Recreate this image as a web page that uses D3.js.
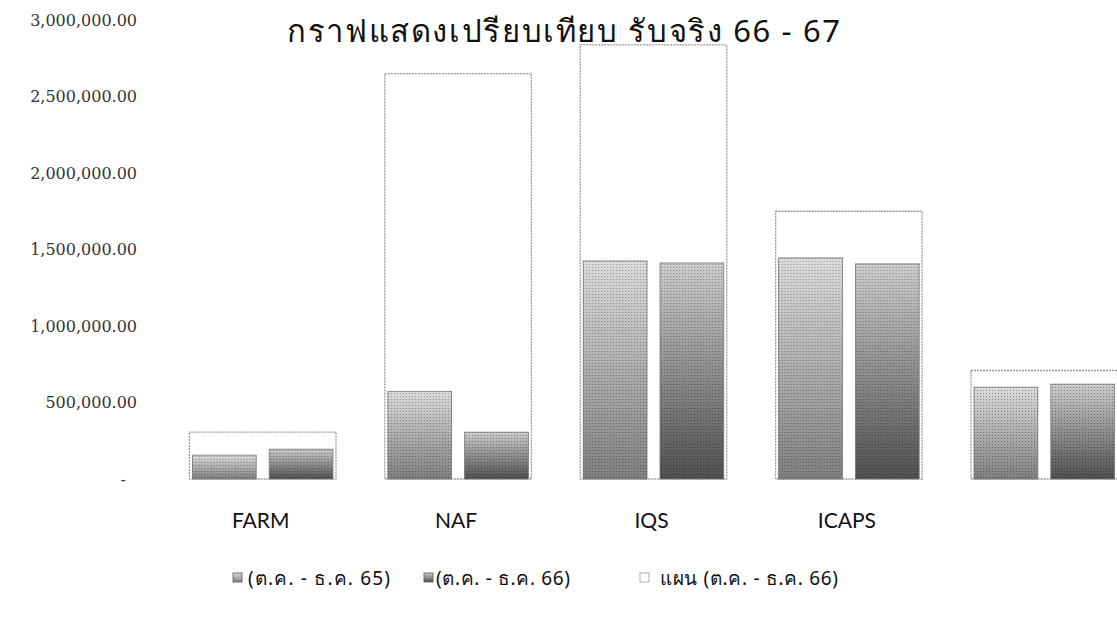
<!DOCTYPE html>
<html>
<head>
<meta charset="utf-8">
<script src="https://cdn.jsdelivr.net/npm/d3@7"></script>
<style>
  body { margin: 0; background: #fff; }
  text { fill: #111; }
</style>
</head>
<body>
<div id="chart"></div>
<script>
// data
var categories = ["FARM", "NAF", "IQS", "ICAPS", ""];
var actual65 = [156000, 573000, 1425000, 1445000, 600000];
var actual66 = [195000, 306000, 1412000, 1406000, 620000];
var plan66 = [306000, 2649000, 2837000, 1750000, 709000];
var yTicks = [0, 500000, 1000000, 1500000, 2000000, 2500000, 3000000];
var legendLabels = ["(ต.ค. - ธ.ค. 65)", "(ต.ค. - ธ.ค. 66)", "แผน (ต.ค. - ธ.ค. 66)"];
var title = "กราฟแสดงเปรียบเทียบ รับจริง 66 - 67";

var W = 1117, H = 617;
var svg = d3.select("#chart").append("svg")
    .attr("width", W).attr("height", H);

var defs = svg.append("defs");
function grad(id, top, bottom) {
  var g = defs.append("linearGradient").attr("id", id)
    .attr("x1", 0).attr("y1", 0).attr("x2", 0).attr("y2", 1);
  g.append("stop").attr("offset", "0%").attr("stop-color", top);
  g.append("stop").attr("offset", "100%").attr("stop-color", bottom);
}
grad("g65", "#dcdcdc", "#808080");
grad("g66", "#cdcdcd", "#505050");

// halftone dots
var pat = defs.append("pattern").attr("id", "dots")
  .attr("width", 3).attr("height", 3).attr("patternUnits", "userSpaceOnUse");
pat.append("rect").attr("width", 1).attr("height", 1).attr("fill", "#000").attr("opacity", 0.35);

var x = d3.scaleBand()
  .domain(d3.range(categories.length))
  .range([165, 1142])
  .paddingInner(0.25).paddingOuter(0.125);

var y = d3.scaleLinear().domain([0, 3000000]).range([479, 20]);

// y tick labels
var fmt = d3.format(",.2f");
svg.append("g").selectAll("text")
  .data(yTicks).enter().append("text")
  .attr("x", function(d) { return d === 0 ? 126 : 137; })
  .attr("y", function(d) { return y(d); })
  .attr("dy", "0.35em")
  .attr("text-anchor", "end")
  .style("font-family", "'DejaVu Serif', serif")
  .style("font-size", "16px")
  .style("fill", "#333")
  .text(function(d) { return d === 0 ? "-" : fmt(d); });

var groups = svg.append("g").selectAll("g")
  .data(categories).enter().append("g")
  .attr("transform", function(d, i) { return "translate(" + x(i) + ",0)"; });

var bw = x.bandwidth();
var inner = (bw - 6 - 13) / 2;

// plan bars
groups.append("rect")
  .attr("x", 0)
  .attr("y", function(d, i) { return y(plan66[i]); })
  .attr("width", bw)
  .attr("height", function(d, i) { return y(0) - y(plan66[i]); })
  .attr("fill", "#fff")
  .attr("stroke", "#9a9a9a")
  .attr("stroke-width", 1.3)
  .attr("stroke-dasharray", "2,1");

// actual bars
[[actual65, "g65", 3], [actual66, "g66", 3 + inner + 13]].forEach(function(s) {
  groups.append("rect")
    .attr("x", s[2])
    .attr("y", function(d, i) { return y(s[0][i]); })
    .attr("width", inner)
    .attr("height", function(d, i) { return y(0) - y(s[0][i]); })
    .attr("fill", "url(#" + s[1] + ")")
    .attr("stroke", "#777").attr("stroke-width", 0.8);
  groups.append("rect")
    .attr("x", s[2])
    .attr("y", function(d, i) { return y(s[0][i]); })
    .attr("width", inner)
    .attr("height", function(d, i) { return y(0) - y(s[0][i]); })
    .attr("fill", "url(#dots)");
});

// category labels
groups.append("text")
  .attr("x", bw / 2 - 2)
  .attr("y", 528)
  .attr("text-anchor", "middle")
  .style("font-family", "Lato, sans-serif")
  .style("font-size", "21px")
  .text(function(d) { return d; });

// title
svg.append("text")
  .attr("x", 287).attr("y", 42)
  .attr("textLength", 553)
  .attr("lengthAdjust", "spacing")
  .style("font-family", "'Noto Sans', sans-serif")
  .style("font-size", "31px")
  .text(title);

// legend
var legX = [233, 424, 640];
var legTextX = [248, 436, 660];
var legLen = [142, 134, 178];
var legFill = ["url(#g65)", "url(#g66)", "#fff"];
var leg = svg.append("g").selectAll("g")
  .data(legendLabels).enter().append("g");
leg.append("rect")
  .attr("x", function(d, i) { return legX[i]; })
  .attr("y", 573).attr("width", 9).attr("height", 9)
  .attr("fill", function(d, i) { return legFill[i]; })
  .attr("stroke", function(d, i) { return i === 2 ? "#999" : "#555"; })
  .attr("stroke-width", 0.8);
leg.append("text")
  .attr("x", function(d, i) { return legTextX[i]; })
  .attr("y", 578)
  .attr("dy", "0.35em")
  .attr("textLength", function(d, i) { return legLen[i]; })
  .attr("lengthAdjust", "spacing")
  .style("font-family", "'Noto Sans', sans-serif")
  .style("font-size", "19px")
  .text(function(d) { return d; });
</script>
</body>
</html>
